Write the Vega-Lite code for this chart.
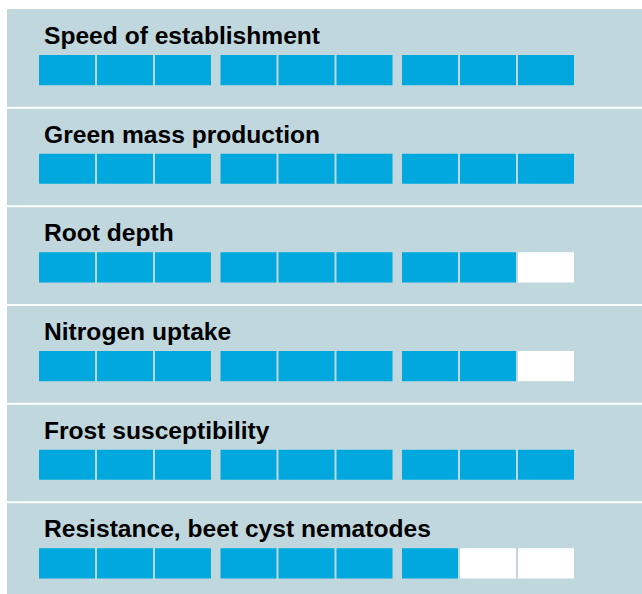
{
  "$schema": "https://vega.github.io/schema/vega-lite/v6.json",
  "width": 635,
  "height": 585,
  "autosize": "none",
  "padding": {"left": 7, "top": 9, "right": 0, "bottom": 0},
  "background": "#ffffff",
  "config": {"view": {"stroke": null, "fill": "#c1d7de"}},
  "data": {"values": [
    {"trait": "Speed of establishment", "group": 1, "slot": 1, "rated": "yes"},
    {"trait": "Speed of establishment", "group": 1, "slot": 2, "rated": "yes"},
    {"trait": "Speed of establishment", "group": 1, "slot": 3, "rated": "yes"},
    {"trait": "Speed of establishment", "group": 2, "slot": 1, "rated": "yes"},
    {"trait": "Speed of establishment", "group": 2, "slot": 2, "rated": "yes"},
    {"trait": "Speed of establishment", "group": 2, "slot": 3, "rated": "yes"},
    {"trait": "Speed of establishment", "group": 3, "slot": 1, "rated": "yes"},
    {"trait": "Speed of establishment", "group": 3, "slot": 2, "rated": "yes"},
    {"trait": "Speed of establishment", "group": 3, "slot": 3, "rated": "yes"},
    {"trait": "Green mass production", "group": 1, "slot": 1, "rated": "yes"},
    {"trait": "Green mass production", "group": 1, "slot": 2, "rated": "yes"},
    {"trait": "Green mass production", "group": 1, "slot": 3, "rated": "yes"},
    {"trait": "Green mass production", "group": 2, "slot": 1, "rated": "yes"},
    {"trait": "Green mass production", "group": 2, "slot": 2, "rated": "yes"},
    {"trait": "Green mass production", "group": 2, "slot": 3, "rated": "yes"},
    {"trait": "Green mass production", "group": 3, "slot": 1, "rated": "yes"},
    {"trait": "Green mass production", "group": 3, "slot": 2, "rated": "yes"},
    {"trait": "Green mass production", "group": 3, "slot": 3, "rated": "yes"},
    {"trait": "Root depth", "group": 1, "slot": 1, "rated": "yes"},
    {"trait": "Root depth", "group": 1, "slot": 2, "rated": "yes"},
    {"trait": "Root depth", "group": 1, "slot": 3, "rated": "yes"},
    {"trait": "Root depth", "group": 2, "slot": 1, "rated": "yes"},
    {"trait": "Root depth", "group": 2, "slot": 2, "rated": "yes"},
    {"trait": "Root depth", "group": 2, "slot": 3, "rated": "yes"},
    {"trait": "Root depth", "group": 3, "slot": 1, "rated": "yes"},
    {"trait": "Root depth", "group": 3, "slot": 2, "rated": "yes"},
    {"trait": "Root depth", "group": 3, "slot": 3, "rated": "no"},
    {"trait": "Nitrogen uptake", "group": 1, "slot": 1, "rated": "yes"},
    {"trait": "Nitrogen uptake", "group": 1, "slot": 2, "rated": "yes"},
    {"trait": "Nitrogen uptake", "group": 1, "slot": 3, "rated": "yes"},
    {"trait": "Nitrogen uptake", "group": 2, "slot": 1, "rated": "yes"},
    {"trait": "Nitrogen uptake", "group": 2, "slot": 2, "rated": "yes"},
    {"trait": "Nitrogen uptake", "group": 2, "slot": 3, "rated": "yes"},
    {"trait": "Nitrogen uptake", "group": 3, "slot": 1, "rated": "yes"},
    {"trait": "Nitrogen uptake", "group": 3, "slot": 2, "rated": "yes"},
    {"trait": "Nitrogen uptake", "group": 3, "slot": 3, "rated": "no"},
    {"trait": "Frost susceptibility", "group": 1, "slot": 1, "rated": "yes"},
    {"trait": "Frost susceptibility", "group": 1, "slot": 2, "rated": "yes"},
    {"trait": "Frost susceptibility", "group": 1, "slot": 3, "rated": "yes"},
    {"trait": "Frost susceptibility", "group": 2, "slot": 1, "rated": "yes"},
    {"trait": "Frost susceptibility", "group": 2, "slot": 2, "rated": "yes"},
    {"trait": "Frost susceptibility", "group": 2, "slot": 3, "rated": "yes"},
    {"trait": "Frost susceptibility", "group": 3, "slot": 1, "rated": "yes"},
    {"trait": "Frost susceptibility", "group": 3, "slot": 2, "rated": "yes"},
    {"trait": "Frost susceptibility", "group": 3, "slot": 3, "rated": "yes"},
    {"trait": "Resistance, beet cyst nematodes", "group": 1, "slot": 1, "rated": "yes"},
    {"trait": "Resistance, beet cyst nematodes", "group": 1, "slot": 2, "rated": "yes"},
    {"trait": "Resistance, beet cyst nematodes", "group": 1, "slot": 3, "rated": "yes"},
    {"trait": "Resistance, beet cyst nematodes", "group": 2, "slot": 1, "rated": "yes"},
    {"trait": "Resistance, beet cyst nematodes", "group": 2, "slot": 2, "rated": "yes"},
    {"trait": "Resistance, beet cyst nematodes", "group": 2, "slot": 3, "rated": "yes"},
    {"trait": "Resistance, beet cyst nematodes", "group": 3, "slot": 1, "rated": "yes"},
    {"trait": "Resistance, beet cyst nematodes", "group": 3, "slot": 2, "rated": "no"},
    {"trait": "Resistance, beet cyst nematodes", "group": 3, "slot": 3, "rated": "no"}
  ]},
  "layer": [
    {
      "transform": [{"filter": "datum.group == 1 && datum.slot == 1 && datum.trait != 'Speed of establishment'"}],
      "mark": {"type": "rule", "color": "#ffffff", "strokeWidth": 2},
      "encoding": {
        "y": {"field": "trait", "type": "nominal", "bandPosition": 0, "axis": null,
              "scale": {"domain": ["Speed of establishment", "Green mass production", "Root depth", "Nitrogen uptake", "Frost susceptibility", "Resistance, beet cyst nematodes"], "range": [0, 592], "paddingInner": 0, "paddingOuter": 0}}
      }
    },
    {
      "mark": {"type": "rect"},
      "encoding": {
        "x": {"field": "group", "type": "ordinal", "axis": null,
              "scale": {"range": [32, 567], "paddingInner": 0.0523, "paddingOuter": 0}},
        "xOffset": {"field": "slot", "type": "ordinal",
                    "scale": {"paddingInner": 0.0345, "paddingOuter": 0}},
        "y": {"field": "trait", "type": "nominal", "bandPosition": 0.466, "axis": null},
        "y2": {"field": "trait", "bandPosition": 0.772},
        "color": {"field": "rated", "type": "nominal", "legend": null,
                  "scale": {"domain": ["yes", "no"], "range": ["#00a8de", "#ffffff"]}}
      }
    },
    {
      "transform": [{"filter": "datum.group == 1 && datum.slot == 1"}],
      "mark": {"type": "text", "align": "left", "baseline": "alphabetic", "dx": 5,
               "font": "Liberation Sans", "fontWeight": "bold", "fontSize": 24.6, "color": "#000000"},
      "encoding": {
        "x": {"field": "group", "type": "ordinal", "bandPosition": 0, "axis": null},
        "y": {"field": "trait", "type": "nominal", "bandPosition": 0.3547, "axis": null},
        "text": {"field": "trait"}
      }
    }
  ]
}
